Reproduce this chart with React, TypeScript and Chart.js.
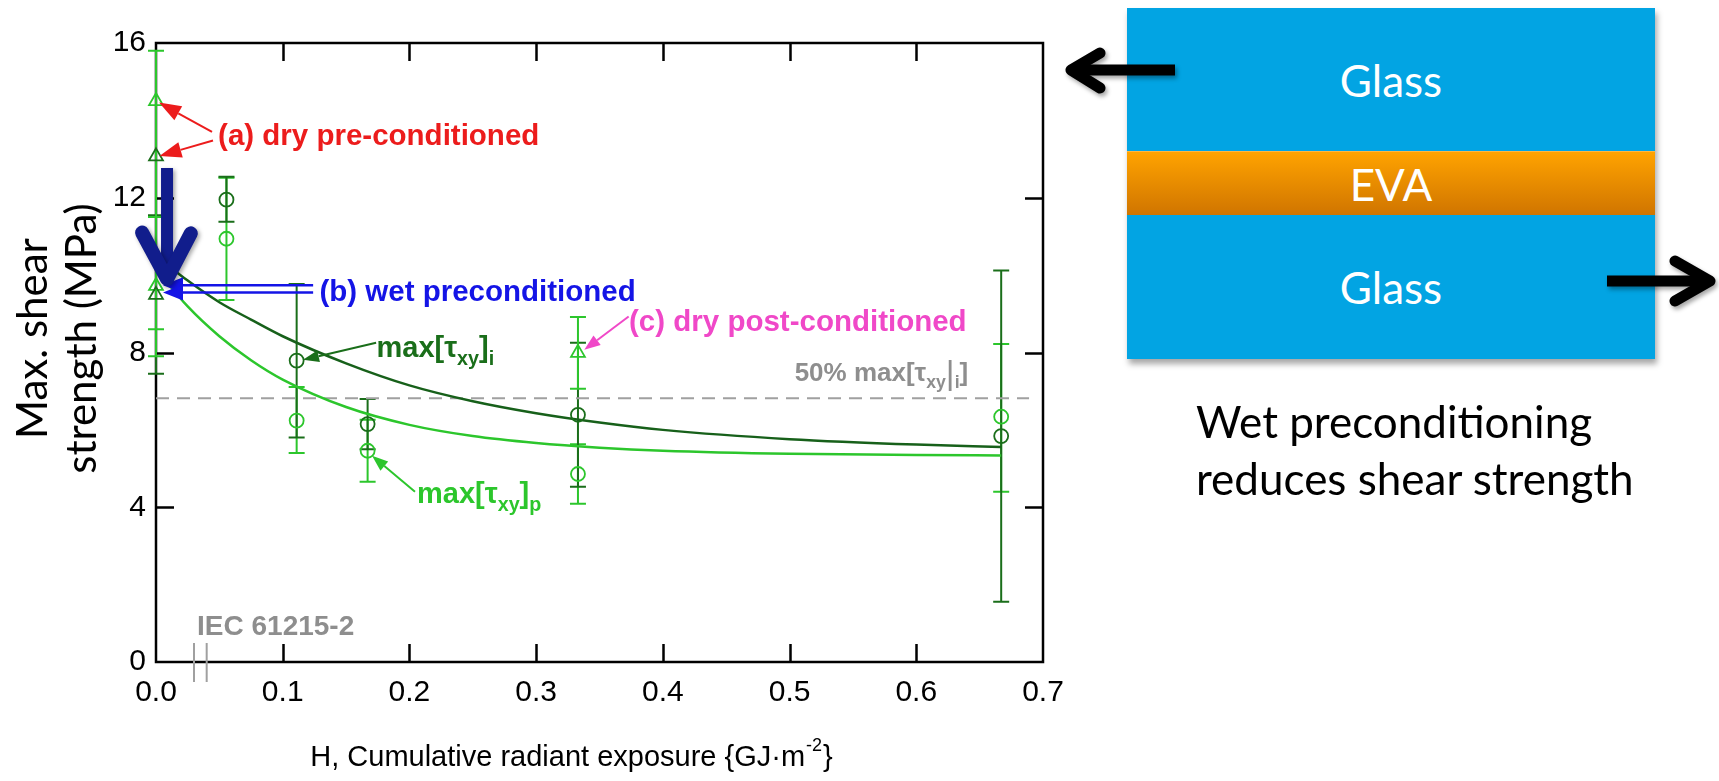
import React, { useEffect, useRef } from "react";
import { Chart, registerables } from "chart.js";
Chart.register(...registerables);

// ---- axis ticks ----
const xTicks = [0, 0.1, 0.2, 0.3, 0.4, 0.5, 0.6, 0.7];
const yTicks = [0, 4, 8, 12, 16];

// ---- fitted curves ----
const fitX = [0, 0.025, 0.05, 0.075, 0.1, 0.15, 0.2, 0.25, 0.3, 0.35, 0.4, 0.5, 0.6, 0.667];
const fitI = [10.5, 9.86, 9.3, 8.85, 8.42, 7.72, 7.15, 6.74, 6.43, 6.19, 6.0, 5.76, 5.62, 5.56];
const fitP = [10.16, 9.19, 8.42, 7.8, 7.3, 6.59, 6.13, 5.84, 5.66, 5.54, 5.46, 5.38, 5.35, 5.34];

// ---- circles: max[τxy]i (dark) and max[τxy]p (light) ----
const circleX = [0.0556, 0.111, 0.167, 0.333, 0.667];
const circleI = [11.95, 7.79, 6.15, 6.39, 5.84];
const circleILow = [11.38, 5.8, 5.5, 4.53, 1.56];
const circleIHigh = [12.54, 9.77, 6.8, 8.25, 10.12];
const circleP = [10.94, 6.24, 5.46, 4.86, 6.34];
const circlePLow = [9.36, 5.4, 4.66, 4.09, 4.4];
const circlePHigh = [12.52, 7.11, 6.26, 5.63, 8.22];

// ---- triangles: conditioned specimens ----
const triIX = [0, 0];
const triI = [13.07, 9.49];
const triILow = [13.07, 7.45];
const triIHigh = [13.07, 11.55];
const triPX = [0, 0, 0.333];
const triP = [14.5, 9.72, 7.99];
const triPLow = [8.6, 7.9, 7.06];
const triPHigh = [15.8, 11.5, 8.92];

// ---- reference lines ----
const halfMaxY = 6.82;
const halfMaxX = [0, 0.689];
const iecBreakX = [0.03, 0.04];

const DARK = "#1a6e1a";
const LIGHT = "#2cc62c";
const RED = "#ec1c1c";
const BLUE = "#1414e6";
const MAGENTA = "#f048c8";
const GRAY = "#8e8e8e";
const NAVY = "#111d8c";
const SANS = '"Liberation Sans", Arial, sans-serif';

type Part = { t: string; sub?: boolean; tall?: boolean };
const labels: { x: number; y: number; color: string; size: number; parts: Part[] }[] = [
  { x: 0.049, y: 13.63, color: RED, size: 29.5, parts: [{ t: "(a) dry pre-conditioned" }] },
  { x: 0.129, y: 9.6, color: BLUE, size: 29.5, parts: [{ t: "(b) wet preconditioned" }] },
  { x: 0.174, y: 8.15, color: DARK, size: 29, parts: [{ t: "max[τ" }, { t: "xy", sub: true }, { t: "]" }, { t: "i", sub: true }] },
  { x: 0.206, y: 4.37, color: LIGHT, size: 29, parts: [{ t: "max[τ" }, { t: "xy", sub: true }, { t: "]" }, { t: "p", sub: true }] },
  { x: 0.3733, y: 8.84, color: MAGENTA, size: 29.5, parts: [{ t: "(c) dry post-conditioned" }] },
  { x: 0.504, y: 7.51, color: GRAY, size: 26, parts: [{ t: "50% max[τ" }, { t: "xy", sub: true }, { t: "|", tall: true }, { t: "i", sub: true }, { t: "]" }] },
  { x: 0.0324, y: 0.96, color: GRAY, size: 28, parts: [{ t: "IEC 61215-2" }] },
];

const arrows: { from: [number, number]; to: [number, number]; color: string; w: number; head: number; hw: number }[] = [
  { from: [0.0442, 13.7], to: [0.0024, 14.46], color: RED, w: 2, head: 22, hw: 8 },
  { from: [0.045, 13.48], to: [0.0027, 13.08], color: RED, w: 2, head: 22, hw: 8 },
  { from: [0.124, 9.74], to: [0.0055, 9.74], color: BLUE, w: 2.5, head: 20, hw: 8 },
  { from: [0.124, 9.55], to: [0.0055, 9.55], color: BLUE, w: 2.5, head: 20, hw: 8 },
  { from: [0.1737, 8.25], to: [0.116, 7.81], color: DARK, w: 2, head: 16, hw: 6 },
  { from: [0.2044, 4.4], to: [0.1705, 5.33], color: LIGHT, w: 2, head: 16, hw: 6 },
  { from: [0.373, 8.93], to: [0.338, 8.07], color: MAGENTA, w: 2, head: 16, hw: 6 },
];

const errorSets = [
  { xs: triIX, low: triILow, high: triIHigh, color: DARK },
  { xs: circleX, low: circlePLow, high: circlePHigh, color: LIGHT },
  { xs: circleX, low: circleILow, high: circleIHigh, color: DARK },
  { xs: triPX, low: triPLow, high: triPHigh, color: LIGHT },
];

function drawArrow(ctx: CanvasRenderingContext2D, x1: number, y1: number, x2: number, y2: number, color: string, w: number, head: number, hw: number) {
  const ang = Math.atan2(y2 - y1, x2 - x1);
  const bx = x2 - Math.cos(ang) * head;
  const by = y2 - Math.sin(ang) * head;
  ctx.save();
  ctx.strokeStyle = color;
  ctx.fillStyle = color;
  ctx.lineWidth = w;
  ctx.beginPath();
  ctx.moveTo(x1, y1);
  ctx.lineTo(bx, by);
  ctx.stroke();
  ctx.beginPath();
  ctx.moveTo(x2, y2);
  ctx.lineTo(bx + Math.sin(ang) * hw, by - Math.cos(ang) * hw);
  ctx.lineTo(bx - Math.sin(ang) * hw, by + Math.cos(ang) * hw);
  ctx.closePath();
  ctx.fill();
  ctx.restore();
}

const decorPlugin = {
  id: "decor",
  beforeDatasetsDraw(chart: any) {
    const ctx: CanvasRenderingContext2D = chart.ctx;
    const xs = chart.scales.x;
    const ys = chart.scales.y;
    const { left, right, top, bottom } = chart.chartArea;
    ctx.save();
    ctx.strokeStyle = "#000";
    ctx.lineWidth = 2.5;
    ctx.strokeRect(left, top, right - left, bottom - top);
    ctx.beginPath();
    xTicks.slice(1, -1).forEach((v) => {
      const p = Math.round(xs.getPixelForValue(v)) + 0.5;
      ctx.moveTo(p, bottom); ctx.lineTo(p, bottom - 18);
      ctx.moveTo(p, top); ctx.lineTo(p, top + 18);
    });
    yTicks.slice(1, -1).forEach((v) => {
      const p = Math.round(ys.getPixelForValue(v)) + 0.5;
      ctx.moveTo(left, p); ctx.lineTo(left + 18, p);
      ctx.moveTo(right, p); ctx.lineTo(right - 18, p);
    });
    ctx.stroke();
    // error bars
    errorSets.forEach((s) => {
      ctx.strokeStyle = s.color;
      ctx.lineWidth = 2;
      s.xs.forEach((xv, i) => {
        const px = xs.getPixelForValue(xv);
        const pl = ys.getPixelForValue(s.low[i]);
        const ph = ys.getPixelForValue(s.high[i]);
        if (Math.abs(pl - ph) < 1) return;
        ctx.beginPath();
        ctx.moveTo(px, pl); ctx.lineTo(px, ph);
        ctx.moveTo(px - 8, pl); ctx.lineTo(px + 8, pl);
        ctx.moveTo(px - 8, ph); ctx.lineTo(px + 8, ph);
        ctx.stroke();
      });
    });
    ctx.restore();
  },
  afterDatasetsDraw(chart: any) {
    const ctx: CanvasRenderingContext2D = chart.ctx;
    const xs = chart.scales.x;
    const ys = chart.scales.y;
    const X = (v: number) => xs.getPixelForValue(v);
    const Y = (v: number) => ys.getPixelForValue(v);
    const { left, right, top, bottom } = chart.chartArea;
    ctx.save();
    // IEC break marks
    ctx.strokeStyle = "#a0a0a0";
    ctx.lineWidth = 2;
    iecBreakX.forEach((v) => {
      ctx.beginPath();
      ctx.moveTo(X(v), bottom - 19);
      ctx.lineTo(X(v), bottom + 20);
      ctx.stroke();
    });
    // labels
    labels.forEach((l) => {
      ctx.fillStyle = l.color;
      ctx.textAlign = "left";
      ctx.textBaseline = "alphabetic";
      let cx = X(l.x);
      const base = Y(l.y) + l.size * 0.36;
      l.parts.forEach((p) => {
        const s = p.sub ? l.size * 0.68 : p.tall ? l.size * 1.3 : l.size;
        ctx.font = `${p.tall ? "" : "bold "}${s}px ${SANS}`;
        const dy = p.sub ? l.size * 0.27 : p.tall ? l.size * 0.12 : 0;
        ctx.fillText(p.t, cx, base + dy);
        cx += ctx.measureText(p.t).width;
      });
    });
    arrows.forEach((a) => drawArrow(ctx, X(a.from[0]), Y(a.from[1]), X(a.to[0]), Y(a.to[1]), a.color, a.w, a.head, a.hw));
    // big navy arrow
    ctx.save();
    ctx.shadowColor = "rgba(0,0,0,0.35)";
    ctx.shadowBlur = 4;
    ctx.shadowOffsetX = 2;
    ctx.shadowOffsetY = 2;
    ctx.strokeStyle = NAVY;
    ctx.lineWidth = 12;
    ctx.lineCap = "butt";
    const ax = X(0.0087);
    ctx.beginPath();
    ctx.moveTo(ax, Y(12.77));
    ctx.lineTo(ax, Y(10.2));
    ctx.stroke();
    ctx.lineWidth = 14;
    ctx.lineCap = "round";
    ctx.lineJoin = "round";
    ctx.beginPath();
    ctx.moveTo(X(-0.011), Y(11.1));
    ctx.lineTo(ax, Y(9.9));
    ctx.lineTo(X(0.0275), Y(11.08));
    ctx.stroke();
    ctx.restore();
    // axis titles
    ctx.fillStyle = "#000";
    const big = `29px ${SANS}`;
    const small = `18px ${SANS}`;
    ctx.font = big;
    const t1 = "H, Cumulative radiant exposure {GJ·m";
    const w1 = ctx.measureText(t1).width;
    ctx.font = small;
    const t2 = "-2";
    const w2 = ctx.measureText(t2).width;
    ctx.font = big;
    const t3 = "}";
    const w3 = ctx.measureText(t3).width;
    const cxm = (left + right) / 2 - 29;
    let sx = cxm - (w1 + w2 + w3) / 2;
    const by = bottom + 104;
    ctx.textAlign = "left";
    ctx.textBaseline = "alphabetic";
    ctx.fillText(t1, sx, by);
    sx += w1;
    ctx.font = small;
    ctx.fillText(t2, sx + 1, by - 15);
    sx += w2 + 2;
    ctx.font = big;
    ctx.fillText(t3, sx, by);
    // y title
    ctx.font = `42px Lato, "Open Sans", sans-serif`;
    ctx.textAlign = "center";
    const cy = (top + bottom) / 2 - 14;
    ctx.save();
    ctx.translate(47, cy);
    ctx.rotate(-Math.PI / 2);
    ctx.fillText("Max. shear", 0, 0);
    ctx.restore();
    ctx.save();
    ctx.translate(96, cy);
    ctx.rotate(-Math.PI / 2);
    ctx.fillText("strength (MPa)", 0, 0);
    ctx.restore();
    ctx.restore();
  },
};

function toPts(xs: number[], ys: number[]) {
  return xs.map((x, i) => ({ x, y: ys[i] }));
}

function ShearChart() {
  const ref = useRef<HTMLCanvasElement | null>(null);
  useEffect(() => {
    if (!ref.current) return;
    const markerBase = { showLine: false, clip: false as any, pointBorderWidth: 1.8, pointBackgroundColor: "rgba(0,0,0,0)" };
    const chart = new Chart(ref.current, {
      type: "scatter",
      data: {
        datasets: [
          { ...markerBase, label: "tri i", data: toPts(triIX, triI), pointStyle: "triangle", pointRadius: 8, pointBorderColor: DARK },
          { ...markerBase, label: "tri p", data: toPts(triPX, triP), pointStyle: "triangle", pointRadius: 8, pointBorderColor: LIGHT },
          { ...markerBase, label: "circle i", data: toPts(circleX, circleI), pointStyle: "circle", pointRadius: 7, pointBorderColor: DARK },
          { ...markerBase, label: "circle p", data: toPts(circleX, circleP), pointStyle: "circle", pointRadius: 7, pointBorderColor: LIGHT },
          { label: "fit i", data: toPts(fitX, fitI), showLine: true, pointRadius: 0, borderColor: "#17601a", borderWidth: 2.5, cubicInterpolationMode: "monotone", clip: false as any },
          { label: "fit p", data: toPts(fitX, fitP), showLine: true, pointRadius: 0, borderColor: LIGHT, borderWidth: 2.5, cubicInterpolationMode: "monotone", clip: false as any },
          { label: "50%", data: halfMaxX.map((x) => ({ x, y: halfMaxY })), showLine: true, pointRadius: 0, borderColor: "#a0a0a0", borderWidth: 2, borderDash: [13, 8] },
        ],
      },
      options: {
        animation: false,
        responsive: false,
        events: [],
        layout: { padding: { left: 0, top: 43, right: 57, bottom: 0 } },
        plugins: { legend: { display: false }, tooltip: { enabled: false } },
        scales: {
          x: {
            type: "linear",
            min: 0,
            max: 0.7,
            afterBuildTicks: (s: any) => { s.ticks = xTicks.map((v) => ({ value: v })); },
            afterFit: (s: any) => { s.height = 119; },
            grid: { display: false, drawTicks: false },
            border: { display: false },
            ticks: { color: "#000", font: { family: SANS, size: 30 }, padding: 13, maxRotation: 0, callback: (v: any) => Number(v).toFixed(1) },
          },
          y: {
            type: "linear",
            min: 0,
            max: 16,
            afterBuildTicks: (s: any) => { s.ticks = yTicks.map((v) => ({ value: v })); },
            afterFit: (s: any) => { s.width = 156; },
            grid: { display: false, drawTicks: false },
            border: { display: false },
            ticks: { color: "#000", font: { family: SANS, size: 30 }, padding: 10, callback: (v: any) => String(v) },
          },
        },
      },
      plugins: [decorPlugin],
    } as any);
    return () => chart.destroy();
  }, []);
  return <canvas ref={ref} width={1100} height={781} style={{ position: "absolute", left: 0, top: 0, width: 1100, height: 781 }} />;
}

const calibri = 'Lato, "Open Sans", sans-serif';

export default function App() {
  const glass: React.CSSProperties = {
    position: "absolute", left: 1127, width: 528, background: "#02a4e3", color: "#fff",
    display: "flex", alignItems: "center", justifyContent: "center", fontFamily: calibri, fontSize: 44,
  };
  return (
    <div style={{ position: "fixed", left: 0, top: 0, width: 1719, height: 781, background: "#fff", overflow: "hidden" }}>
      <ShearChart />
      <div style={{ position: "absolute", left: 1127, top: 8, width: 528, height: 351, boxShadow: "2px 5px 6px rgba(0,0,0,0.35)" }} />
      <div style={{ ...glass, top: 8, height: 143 }}>Glass</div>
      <div style={{ ...glass, top: 151, height: 64, background: "linear-gradient(#ffa300, #cf7400)", borderTop: "1px solid #ffb640" }}>EVA</div>
      <div style={{ ...glass, top: 215, height: 144 }}>Glass</div>
      <svg width={1719} height={781} style={{ position: "absolute", left: 0, top: 0, pointerEvents: "none", filter: "drop-shadow(2px 3px 2px rgba(0,0,0,0.35))" }}>
        <g stroke="#000" strokeWidth={11} fill="none" strokeLinecap="round" strokeLinejoin="round">
          <line x1={1175} y1={70} x2={1078} y2={70} strokeLinecap="butt" />
          <polyline points="1100,53 1071,70 1100,88" />
          <line x1={1607} y1={281} x2={1708} y2={281} strokeLinecap="butt" />
          <polyline points="1675,261 1710,281 1675,301" />
        </g>
      </svg>
      <div style={{ position: "absolute", left: 1196, top: 393, fontFamily: calibri, fontSize: 44, lineHeight: "57px", color: "#000", whiteSpace: "nowrap" }}>
        Wet preconditioning<br />reduces shear strength
      </div>
    </div>
  );
}
